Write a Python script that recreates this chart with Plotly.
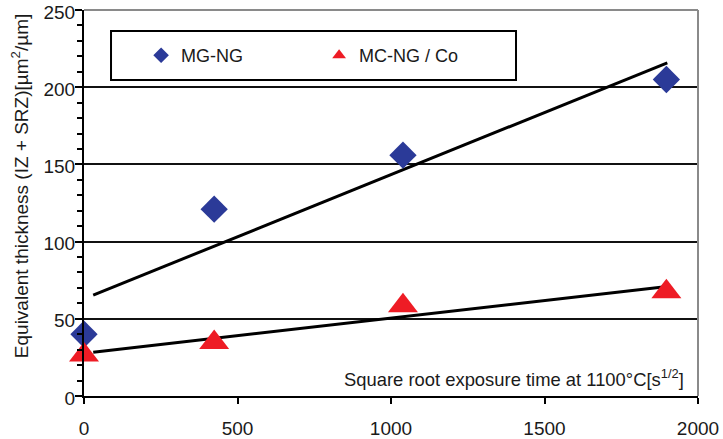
import numpy as np
import plotly.graph_objects as go

# ---- data ----
x_time = [0, 424, 1039, 1897]            # square root exposure time [s^1/2]
mg_ng = [40, 121, 156, 205]              # MG-NG equivalent thickness
mc_ng_co = [26.5, 34.7, 58.5, 67.5]      # MC-NG / Co equivalent thickness
fit_extent = [30, 1900]                  # span of the linear trend lines
x_ticks = [0, 500, 1000, 1500, 2000]
y_ticks = [0, 50, 100, 150, 200, 250]

FONT = "Liberation Sans Narrow, Arial Narrow, Liberation Sans, sans-serif"
BLUE = "#2b3a98"
RED = "#ee1c25"
INK = "#1a1a1a"

fig = go.Figure()

# linear trend lines (least squares on each series)
fx = np.array(fit_extent, dtype=float)
for ys in (mg_ng, mc_ng_co):
    k, b = np.polyfit(x_time, ys, 1)
    fig.add_trace(go.Scatter(
        x=fx, y=k * fx + b, mode="lines", showlegend=False,
        line=dict(color="black", width=3), hoverinfo="skip",
    ))

fig.add_trace(go.Scatter(
    x=x_time, y=mg_ng, mode="markers", name="MG-NG",
    marker=dict(symbol="diamond", size=21, color=BLUE, line=dict(width=0)),
    cliponaxis=False,
))
fig.add_trace(go.Scatter(
    x=x_time, y=mc_ng_co, mode="markers", name="MC-NG / Co",
    marker=dict(symbol="triangle-up", size=26, color=RED, line=dict(width=0)),
    cliponaxis=False,
))

fig.update_layout(
    width=723, height=439,
    margin=dict(l=84, r=25, t=10, b=43, autoexpand=False),
    paper_bgcolor="white", plot_bgcolor="white",
    font=dict(family=FONT, size=18, color=INK),
    showlegend=True,
    legend=dict(
        orientation="h", x=0.093, xanchor="left", y=0.882, yanchor="middle",
        bgcolor="rgba(0,0,0,0)", borderwidth=0,
        font=dict(family=FONT, size=18, color=INK),
        entrywidth=133, itemsizing="constant", traceorder="normal",
    ),
    xaxis=dict(
        range=[0, 2000], tickvals=x_ticks, showgrid=False, zeroline=False,
        showline=True, linecolor="black", linewidth=2, automargin=False,
        ticks="outside", ticklen=6, tickwidth=2, tickcolor="black",
        ticklabelstandoff=8, ticklabeloverflow="allow",
        tickfont=dict(family=FONT, size=19, color=INK),
    ),
    yaxis=dict(
        range=[0, 250], tickvals=y_ticks, showgrid=True, gridcolor="#111111",
        gridwidth=2, zeroline=False, automargin=False,
        showline=True, linecolor="black", linewidth=2,
        ticks="outside", ticklen=7, tickwidth=2, tickcolor="black",
        ticklabelstandoff=-4, ticklabelshift=2, ticklabeloverflow="allow",
        tickfont=dict(family=FONT, size=19, color=INK),
        minor=dict(dtick=10, ticks="outside", ticklen=5, tickwidth=1.5,
                   tickcolor="black", showgrid=False),
    ),
    shapes=[
        # frame top and right (grey)
        dict(type="line", xref="paper", yref="paper", x0=0, x1=1, y0=1, y1=1,
             line=dict(color="#8a8a8a", width=2)),
        dict(type="line", xref="paper", yref="paper", x0=1, x1=1, y0=0, y1=1,
             line=dict(color="#8a8a8a", width=2)),
        # legend box
        dict(type="rect", xref="paper", yref="paper", x0=0.044, x1=0.7036,
             y0=0.8187, y1=0.9456, line=dict(color="black", width=2),
             fillcolor="white", layer="below"),
    ],
    annotations=[
        dict(text="Square root exposure time at 1100°C[s<sup>1/2</sup>]",
             xref="paper", yref="paper", x=0.9805, y=0.0466,
             xanchor="right", yanchor="middle", showarrow=False,
             font=dict(family=FONT, size=18.4, color=INK)),
        dict(text="Equivalent thickness (IZ + SRZ)[µm<sup>2</sup>/µm]",
             xref="paper", yref="paper", x=-0.104, y=0.544,
             xanchor="center", yanchor="middle", textangle=-90, showarrow=False,
             font=dict(family=FONT, size=19, color=INK)),
    ],
)

fig.write_html(
    "out.html",
    config={"displayModeBar": False},
    post_script="document.body.style.margin='0px';document.body.style.overflow='hidden';",
)
